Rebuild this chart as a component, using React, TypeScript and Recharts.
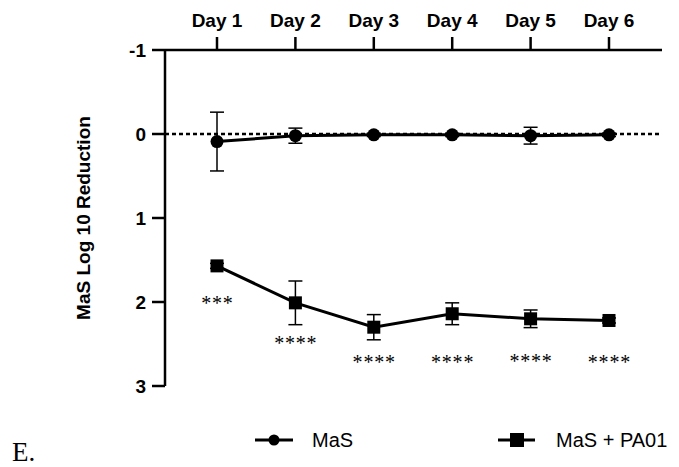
import React from 'react';
import {
  LineChart,
  Line,
  XAxis,
  YAxis,
  ReferenceLine,
  ErrorBar,
  LabelList,
  Legend,
  Label,
} from 'recharts';

const days = ['Day 1', 'Day 2', 'Day 3', 'Day 4', 'Day 5', 'Day 6'];
const masMean = [0.09, 0.02, 0.01, 0.01, 0.02, 0.01];
const masErr = [0.35, 0.09, 0.02, 0.02, 0.1, 0.02];
const pa01Mean = [1.57, 2.01, 2.3, 2.14, 2.2, 2.22];
const pa01Err = [0.03, 0.26, 0.15, 0.13, 0.105, 0.03];
const sigLabels = ['***', '****', '****', '****', '****', '****'];
const sigPos = [2.09, 2.57, 2.8, 2.8, 2.79, 2.8];
const yTicks = [-1, 0, 1, 2, 3];

const data = days.map((d, i) => ({
  day: d,
  mas: masMean[i],
  masErr: masErr[i],
  pa01: pa01Mean[i],
  pa01Err: pa01Err[i],
  sig: sigLabels[i],
  sigPos: sigPos[i],
}));

const SANS = 'Liberation Sans, Arial, Helvetica, sans-serif';
const SERIF = 'Liberation Serif, Times New Roman, serif';

const tickStyle = { fontFamily: SANS, fontWeight: 'bold', fontSize: 19, fill: '#000' };

const SquareDot = (props: any) => {
  const { cx, cy } = props;
  if (cx == null || cy == null) return null;
  return <rect x={cx - 6.5} y={cy - 6.5} width={13} height={13} fill="#000" />;
};

const renderSig = (props: any) => {
  const { x, y, value } = props;
  if (x == null || y == null) return null;
  return (
    <text
      x={x}
      y={y}
      dx={0.4}
      textAnchor="middle"
      fontFamily={SERIF}
      fontSize={20}
      letterSpacing={0.8}
      fill="#000"
    >
      {value}
    </text>
  );
};

const renderYLabel = (props: any) => {
  const vb = props && props.viewBox ? props.viewBox : null;
  const cy = vb && vb.height ? vb.y + vb.height / 2 : 218;
  const cx = 83;
  return (
    <text
      x={cx}
      y={cy}
      transform={`rotate(-90 ${cx} ${cy})`}
      textAnchor="middle"
      dominantBaseline="central"
      fontFamily={SANS}
      fontWeight="bold"
      fontSize={19}
      fill="#000"
    >
      MaS Log 10 Reduction
    </text>
  );
};

const renderLegend = () => (
  <svg width={679} height={47} style={{ display: 'block' }}>
    <text x={12} y={41} fontFamily={SERIF} fontSize={27} fill="#000">
      E.
    </text>
    <line x1={255} y1={20} x2={293} y2={20} stroke="#000" strokeWidth={3} />
    <circle cx={274} cy={20} r={5.5} fill="#000" />
    <text x={312} y={20} dominantBaseline="central" fontFamily={SANS} fontSize={20} fill="#000">
      MaS
    </text>
    <line x1={498} y1={20} x2={535} y2={20} stroke="#000" strokeWidth={3} />
    <rect x={510} y={13} width={14} height={14} fill="#000" />
    <text x={556} y={20} dominantBaseline="central" fontFamily={SANS} fontSize={20} fill="#000">
      MaS + PA01
    </text>
  </svg>
);

export default function App() {
  return (
    <div style={{ position: 'absolute', left: 0, top: 0, width: 679, height: 467, background: '#fff' }}>
      <LineChart
        width={679}
        height={467}
        data={data}
        margin={{ top: 0, right: 17, bottom: 81, left: 0 }}
      >
        <XAxis
          dataKey="day"
          orientation="top"
          height={50}
          tickSize={13}
          tickMargin={10}
          padding={{ left: 52, right: 53 }}
          interval={0}
          axisLine={{ stroke: '#000', strokeWidth: 2.5 }}
          tickLine={{ stroke: '#000', strokeWidth: 2.5 }}
          tick={tickStyle}
        />
        <YAxis
          type="number"
          domain={[-1, 3]}
          ticks={yTicks}
          reversed
          allowDataOverflow
          width={165}
          tickSize={13}
          tickMargin={6}
          interval={0}
          axisLine={{ stroke: '#000', strokeWidth: 2.5 }}
          tickLine={{ stroke: '#000', strokeWidth: 2.5 }}
          tick={tickStyle}
        >
          <Label content={renderYLabel} />
        </YAxis>
        <ReferenceLine y={0} stroke="#000" strokeWidth={2.5} strokeDasharray="4 3" />
        <Line
          dataKey="mas"
          stroke="#000"
          strokeWidth={3}
          dot={{ r: 6.5, fill: '#000', stroke: '#000', strokeWidth: 0 }}
          activeDot={false}
          isAnimationActive={false}
        >
          <ErrorBar dataKey="masErr" direction="y" width={7} stroke="#000" strokeWidth={1.5} />
        </Line>
        <Line
          dataKey="pa01"
          stroke="#000"
          strokeWidth={3}
          dot={<SquareDot />}
          activeDot={false}
          isAnimationActive={false}
        >
          <ErrorBar dataKey="pa01Err" direction="y" width={7} stroke="#000" strokeWidth={1.5} />
        </Line>
        <Line
          dataKey="sigPos"
          stroke="none"
          dot={false}
          activeDot={false}
          isAnimationActive={false}
          legendType="none"
        >
          <LabelList dataKey="sig" content={renderSig} />
        </Line>
        <Legend
          verticalAlign="middle"
          align="center"
          layout="horizontal"
          content={renderLegend}
          wrapperStyle={{ top: 420, left: 0, width: 679, height: 47 }}
        />
      </LineChart>
    </div>
  );
}
